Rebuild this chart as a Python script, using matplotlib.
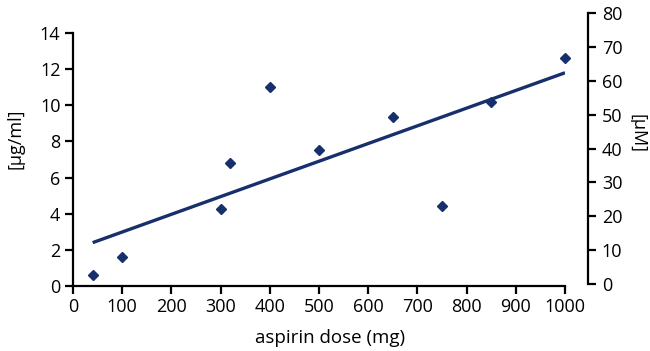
import matplotlib
matplotlib.use("Agg")
import matplotlib.pyplot as plt

plt.rcParams['font.family'] = ['Open Sans', 'DejaVu Sans']

dose_mg = [40, 100, 300, 320, 400, 500, 650, 750, 850, 1000]
conc_ug_ml = [0.6, 1.6, 4.25, 6.8, 11.0, 7.55, 9.35, 4.45, 10.2, 12.6]
trend_x = [40, 1000]
trend_y = [2.4, 11.8]

x_ticks = [0, 100, 200, 300, 400, 500, 600, 700, 800, 900, 1000]
left_ticks = [0, 2, 4, 6, 8, 10, 12, 14]
right_ticks = [0, 10, 20, 30, 40, 50, 60, 70, 80]

navy = '#172f6b'
W, H = 650, 351
fig = plt.figure(figsize=(W / 100, H / 100), dpi=100)

def rect(x0, y0, x1, y1):
    return [x0 / W, 1 - y1 / H, (x1 - x0) / W, (y1 - y0) / H]

ax = fig.add_axes(rect(73, 33, 565, 286))
ax.plot(trend_x, trend_y, color=navy, lw=2.4, solid_capstyle='butt', zorder=2)
ax.plot(dose_mg, conc_ug_ml, linestyle='none', marker='D', markersize=5.2,
        color=navy, zorder=3, clip_on=False)
ax.set_xlim(0, 1000)
ax.set_ylim(0, 14)
ax.set_xticks(x_ticks)
ax.set_yticks(left_ticks)
for s in ['top', 'right']:
    ax.spines[s].set_visible(False)
for s in ['left', 'bottom']:
    ax.spines[s].set_linewidth(1.6)
ax.tick_params(direction='out', length=6, width=1.6, labelsize=13, pad=3, colors='black')

ax2 = fig.add_axes(rect(73, 13, 588, 284))
ax2.patch.set_visible(False)
ax2.set_ylim(0, 80)
ax2.set_yticks(right_ticks)
ax2.set_xticks([])
for s in ['top', 'left', 'bottom']:
    ax2.spines[s].set_visible(False)
ax2.spines['right'].set_linewidth(1.6)
ax2.yaxis.tick_right()
ax2.tick_params(axis='y', direction='out', length=6, width=1.6, labelsize=13, pad=4)

fig.text(330 / W, 1 - 338 / H, 'aspirin dose (mg)', ha='center', va='center', fontsize=13.5)
fig.text(15 / W, 1 - 139 / H, '[µg/ml]', ha='center', va='center', rotation=90, fontsize=13)
fig.text(638 / W, 1 - 134 / H, '[µM]', ha='center', va='center', rotation=270, fontsize=13)

fig.savefig('out.png', dpi=100)
